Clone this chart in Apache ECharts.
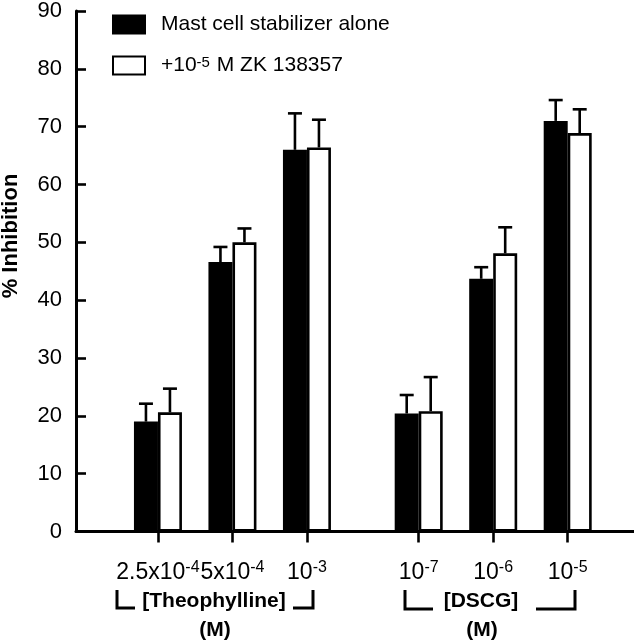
<!DOCTYPE html>
<html>
<head>
<meta charset="utf-8">
<script src="https://cdn.jsdelivr.net/npm/echarts@6/dist/echarts.min.js"></script>
<style>html,body{margin:0;padding:0;background:#fff}#c{width:634px;height:640px}</style>
</head>
<body>
<div id="c"></div>
<script>
// ---- data ----
const xPositions = [1, 2, 3, 4.5, 5.5, 6.5];
const tickBase = ['2.5x10', '5x10', '10', '10', '10', '10'];
const tickExp = ['-4', '-4', '-3', '-7', '-6', '-5'];
const seriesNames = ['Mast cell stabilizer alone', '+10-5 M ZK 138357'];
const aloneMean = [19.0, 46.6, 66.0, 20.4, 43.7, 71.0];
const aloneSem = [3.1, 2.6, 6.3, 3.2, 2.0, 3.6];
const zkMean = [20.6, 50.0, 66.4, 20.8, 48.1, 68.9];
const zkSem = [4.1, 2.4, 4.8, 5.9, 4.5, 4.1];

const FONT = 'Liberation Sans, Arial, sans-serif';
const BAR_W = 24;

function barData(vals) { return xPositions.map((x, i) => [x, vals[i]]); }
function errData(vals, sem) { return xPositions.map((x, i) => [x, vals[i], vals[i] + sem[i]]); }

function errRender(offset) {
  return function (params, api) {
    const x = api.value(0);
    const p0 = api.coord([x, api.value(1)]);
    const p1 = api.coord([x, api.value(2)]);
    const cx = p0[0] + offset;
    const st = { stroke: '#000', lineWidth: 2.6 };
    return {
      type: 'group',
      children: [
        { type: 'line', shape: { x1: cx, y1: p0[1], x2: cx, y2: p1[1] }, style: st },
        { type: 'line', shape: { x1: cx - 7, y1: p1[1], x2: cx + 7, y2: p1[1] }, style: st }
      ]
    };
  };
}

const chart = echarts.init(document.getElementById('c'), null, { renderer: 'canvas' });
chart.setOption({
  animation: false,
  backgroundColor: '#fff',
  grid: { left: 76, right: 0, top: 10, bottom: 108.5, containLabel: false },
  legend: {
    orient: 'vertical',
    left: 112, top: 14, padding: 0,
    itemWidth: 32, itemHeight: 18, itemGap: 20,
    icon: 'rect',
    data: seriesNames,
    textStyle: {
      fontFamily: FONT, fontSize: 21, color: '#000', lineHeight: 20, padding: [0, 0, 0, 11],
      rich: {
        t: { fontFamily: FONT, fontSize: 21, color: '#000', lineHeight: 20 },
        s: { fontFamily: FONT, fontSize: 15, color: '#000', lineHeight: 13, verticalAlign: 'top', padding: [0, 1, 8, 0] }
      }
    },
    formatter: function (name) {
      if (name === seriesNames[1]) return '{t|+10}{s|-5}{t| M ZK 138357}';
      return name;
    }
  },
  xAxis: {
    type: 'value',
    min: -0.10, max: 7.39,
    axisLine: { show: true, onZero: false, lineStyle: { color: '#000', width: 3 } },
    axisTick: { show: true, customValues: xPositions, length: 11, lineStyle: { color: '#000', width: 2.6 } },
    axisLabel: {
      show: true, customValues: xPositions, margin: 28, hideOverlap: false,
      formatter: function (v) {
        const i = xPositions.indexOf(v);
        if (i < 0) return '';
        return '{b|' + tickBase[i] + '}{s|' + tickExp[i] + '}';
      },
      rich: {
        b: { fontFamily: FONT, fontSize: 23, color: '#000', lineHeight: 26 },
        s: { fontFamily: FONT, fontSize: 16, color: '#000', verticalAlign: 'top', lineHeight: 16 }
      }
    },
    splitLine: { show: false }
  },
  yAxis: {
    type: 'value',
    min: 0, max: 90, interval: 10,
    axisLine: { show: true, onZero: false, lineStyle: { color: '#000', width: 3 } },
    axisTick: { show: true, inside: true, length: 10, lineStyle: { color: '#000', width: 2.6 } },
    axisLabel: { fontFamily: FONT, fontSize: 22, color: '#000', margin: 14 },
    splitLine: { show: false }
  },
  series: [
    {
      name: seriesNames[0], type: 'bar', barWidth: BAR_W, barGap: '0%',
      data: barData(aloneMean),
      itemStyle: { color: '#000', borderColor: '#000', borderWidth: 2 }
    },
    {
      name: seriesNames[1], type: 'bar', barWidth: BAR_W, barGap: '0%',
      data: barData(zkMean),
      itemStyle: { color: '#fff', borderColor: '#000', borderWidth: 2.6 }
    },
    {
      type: 'custom', renderItem: errRender(-BAR_W / 2), data: errData(aloneMean, aloneSem), z: 5, silent: true
    },
    {
      type: 'custom', renderItem: errRender(BAR_W / 2), data: errData(zkMean, zkSem), z: 5, silent: true
    }
  ],
  graphic: [
    { type: 'text', x: 11, y: 236, rotation: Math.PI / 2, style: { text: '% Inhibition', font: 'bold 22px ' + FONT, fill: '#000', align: 'center', verticalAlign: 'middle' } },
    { type: 'polyline', shape: { points: [[117, 590], [117, 608], [135, 608]] }, style: { stroke: '#000', lineWidth: 3, fill: null } },
    { type: 'polyline', shape: { points: [[293, 608], [313, 608], [313, 590]] }, style: { stroke: '#000', lineWidth: 3, fill: null } },
    { type: 'text', x: 214, y: 601, style: { text: '[Theophylline]', font: 'bold 21px ' + FONT, fill: '#000', align: 'center', verticalAlign: 'middle' } },
    { type: 'text', x: 215, y: 630, style: { text: '(M)', font: 'bold 21px ' + FONT, fill: '#000', align: 'center', verticalAlign: 'middle' } },
    { type: 'polyline', shape: { points: [[405, 590], [405, 609], [433, 609]] }, style: { stroke: '#000', lineWidth: 3, fill: null } },
    { type: 'polyline', shape: { points: [[536, 609], [575, 609], [575, 590]] }, style: { stroke: '#000', lineWidth: 3, fill: null } },
    { type: 'text', x: 481, y: 601, style: { text: '[DSCG]', font: 'bold 21px ' + FONT, fill: '#000', align: 'center', verticalAlign: 'middle' } },
    { type: 'text', x: 482, y: 630, style: { text: '(M)', font: 'bold 21px ' + FONT, fill: '#000', align: 'center', verticalAlign: 'middle' } }
  ]
});
</script>
</body>
</html>
